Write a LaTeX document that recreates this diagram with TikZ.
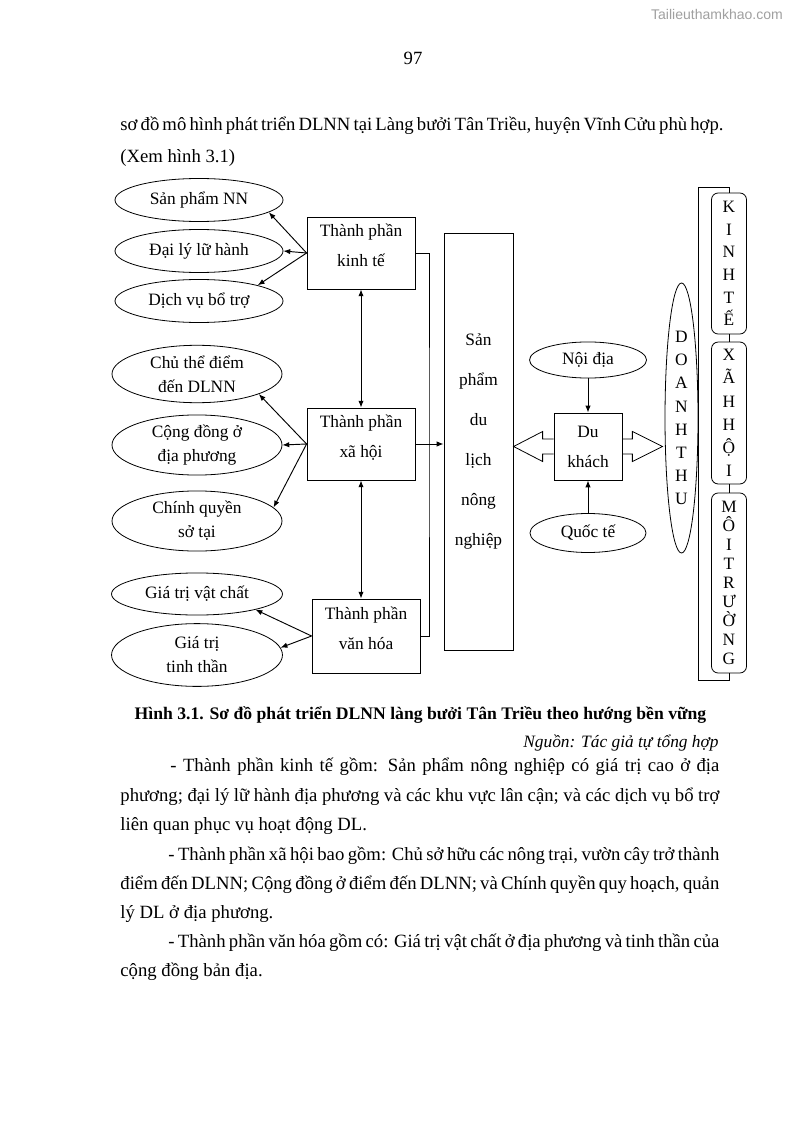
\documentclass[tikz,border=0pt]{standalone}
\usepackage{fontspec}
\setmainfont{Liberation Serif}
\newfontfamily\wmfont{Liberation Sans}
\usepackage{tikz}
\usetikzlibrary{arrows.meta,positioning,calc,shapes.geometric}
\definecolor{wm}{RGB}{160,160,160}
\newcommand{\JL}[2]{\makebox[#1][s]{#2}}

\begin{document}
\begin{tikzpicture}[x=0.7488pt,y=-0.7488pt,line width=0.6pt,
  elli/.style={draw,ellipse,inner sep=0pt,align=center,font=\fontsize{13}{18}\selectfont},
  box/.style={draw,inner sep=0pt,align=center,font=\fontsize{13}{22.5}\selectfont},
  tp/.style={box,minimum width=80.9pt,text depth=11pt},
  col/.style={draw,rounded corners=5pt,inner sep=0pt,align=center,minimum width=26.2pt},
  arr/.style={-{Latex[length=1.8mm,width=1.4mm]},line width=0.7pt},
  darr/.style={{Latex[length=1.8mm,width=1.4mm]}-{Latex[length=1.8mm,width=1.4mm]},line width=0.7pt},
  body/.style={anchor=west,inner sep=0pt,font=\fontsize{14}{17}\selectfont}]
  \fill[white] (0,0) rectangle (795,1123);
  \useasboundingbox (0,0) rectangle (795,1123);

  % header
  \node[font=\wmfont\fontsize{10.5}{12}\selectfont,text=wm] (wmark) at (717,14) {Tailieuthamkhao.com};
  \node[font=\fontsize{14}{17}\selectfont] (pnum) at (413,58) {97};
  \node[body] (t1) at (120,126) {\JL{449.3pt}{sơ đồ mô hình phát triển DLNN tại Làng bưởi Tân Triều, huyện Vĩnh Cửu phù hợp.}};
  \node[body] (t2) at (120,158) {(Xem hình 3.1)};

  % left
  \node[elli,minimum width=125.8pt,minimum height=32.2pt] (e1) at (199,200) {Sản phẩm NN};
  \node[elli,minimum width=125.8pt,minimum height=32.2pt] (e2) at (199,251) {Đại lý lữ hành};
  \node[elli,minimum width=125.8pt,minimum height=32.2pt] (e3) at (199,301) {Dịch vụ bổ trợ};
  \node[elli,minimum width=127.3pt,minimum height=43pt] (e4) at (197,374) {Chủ thể điểm\\đến DLNN};
  \node[elli,minimum width=127.3pt,minimum height=45pt] (e5) at (197,445) {Cộng đồng ở\\địa phương};
  \node[elli,minimum width=127.3pt,minimum height=45pt] (e6) at (197,521) {Chính quyền\\sở tại};
  \node[elli,minimum width=128pt,minimum height=31.5pt] (e7) at (197,594) {Giá trị vật chất};
  \node[elli,minimum width=128pt,minimum height=47pt] (e8) at (197,655) {Giá trị\\tinh thần};

  \node[tp,minimum height=53.9pt] (kt) at (361,253) {Thành phần\\kinh tế};
  \node[tp,minimum height=53.9pt] (xh) at (361,444) {Thành phần\\xã hội};
  \node[tp,minimum height=55.4pt] (vh) at (366,636) {Thành phần\\văn hóa};

  \draw[arr] (kt.west) -- (e1.-10);
  \draw[arr] (kt.west) -- (e2.east);
  \draw[arr] (kt.west) -- (e3.15);
  \draw[arr] (xh.west) -- (e4.-18);
  \draw[arr] (xh.west) -- (e5.east);
  \draw[arr] (xh.west) -- (e6.10);
  \draw[arr] (vh.west) -- (e7.-15);
  \draw[arr] (vh.west) -- (e8.5);
  \draw[darr] (kt.south) -- (xh.north);
  \draw[darr] (xh.south) -- (xh.south |- vh.north);

  % middle
  \node[box,minimum width=51.7pt,minimum height=312.2pt,font=\fontsize{13}{30}\selectfont] (sp) at (478.5,441.5) {Sản\\phẩm\\du\\lịch\\nông\\nghiệp};
  \coordinate (bk) at (429,440);
  \draw (kt.east) -| (bk) |- (vh.east);
  \draw[arr] (xh.east) -- (xh.east -| sp.west);

  \node[box,minimum width=50.9pt,minimum height=50.2pt] (dk) at (588,446.5) {Du\\khách};
  \node[elli,minimum width=87.6pt,minimum height=27pt] (nd) at (588,360) {Nội địa};
  \node[elli,minimum width=86.9pt,minimum height=29.2pt] (qt) at (588,533) {Quốc tế};
  \draw[arr] (nd.south) -- (dk.north);
  \draw[arr] (qt.north) -- (dk.south);

  \node[elli,minimum width=24.7pt,minimum height=202.2pt,font=\fontsize{13}{17.3}\selectfont] (dt) at (681.5,418) {D\\O\\A\\N\\H\\T\\H\\U};

  % block arrows
  \draw ($(dk.west)+(0,-7.5)$) -- ++(-11,0) -- ++(0,-7.5) -- ($(dk.west)+(-40,0)$)
    -- ($(dk.west)+(-11,15)$) -- ++(0,-7.5) -- ++(11,0);
  \draw ($(dk.east)+(0,-7.5)$) -- ++(10,0) -- ++(0,-7.5) -- ($(dk.east)+(40,0)$)
    -- ($(dk.east)+(10,15)$) -- ++(0,-7.5) -- ++(-10,0);

  % right
  \node[col,minimum height=105.6pt,font=\fontsize{13}{16.9}\selectfont] (kte) at (729,263.5) {K\\I\\N\\H\\T\\Ế};
  \node[col,minimum height=106.3pt,font=\fontsize{13}{17.4}\selectfont] (xhi) at (729,413) {X\\Ã\\H\\H\\Ộ\\I};
  \node[col,minimum height=134.8pt,font=\fontsize{13}{14.2}\selectfont] (mt) at (729,583) {M\\Ô\\I\\T\\R\\Ư\\Ờ\\N\\G};
  \coordinate (brtop) at (698,187);
  \coordinate (brbot) at (698,680);
  \draw (kte.north) |- (brtop) -- (brbot) -| (mt.south);
  \draw (kte.south) -- (xhi.north);
  \draw (xhi.south) -- (mt.north);

  % caption and text
  \node[font=\bfseries\fontsize{13.2}{16}\selectfont] (cap) at (420.5,715) {Hình 3.1. Sơ đồ phát triển DLNN làng bưởi Tân Triều theo hướng bền vững};
  \node[anchor=east,inner sep=0pt,font=\itshape\fontsize{13}{16}\selectfont] (src) at (719,743) {Nguồn: Tác giả tự tổng hợp};

  \node[body] (p1) at (170,767) {\JL{411.1pt}{- Thành phần kinh tế gồm: Sản phẩm nông nghiệp có giá trị cao ở địa}};
  \node[body] (p2) at (120,797) {\JL{448.5pt}{phương; đại lý lữ hành địa phương và các khu vực lân cận; và các dịch vụ bổ trợ}};
  \node[body] (p3) at (120,826) {liên quan phục vụ hoạt động DL.};
  \node[body] (p4) at (168,856) {\JL{412.6pt}{- Thành phần xã hội bao gồm: Chủ sở hữu các nông trại, vườn cây trở thành}};
  \node[body] (p5) at (120,885) {\JL{448.5pt}{điểm đến DLNN; Cộng đồng ở điểm đến DLNN; và Chính quyền quy hoạch, quản}};
  \node[body] (p6) at (120,914) {lý DL ở địa phương.};
  \node[body] (p7) at (168,943) {\JL{412.6pt}{- Thành phần văn hóa gồm có: Giá trị vật chất ở địa phương và tinh thần của}};
  \node[body] (p8) at (120,972) {cộng đồng bản địa.};
\end{tikzpicture}
\end{document}
